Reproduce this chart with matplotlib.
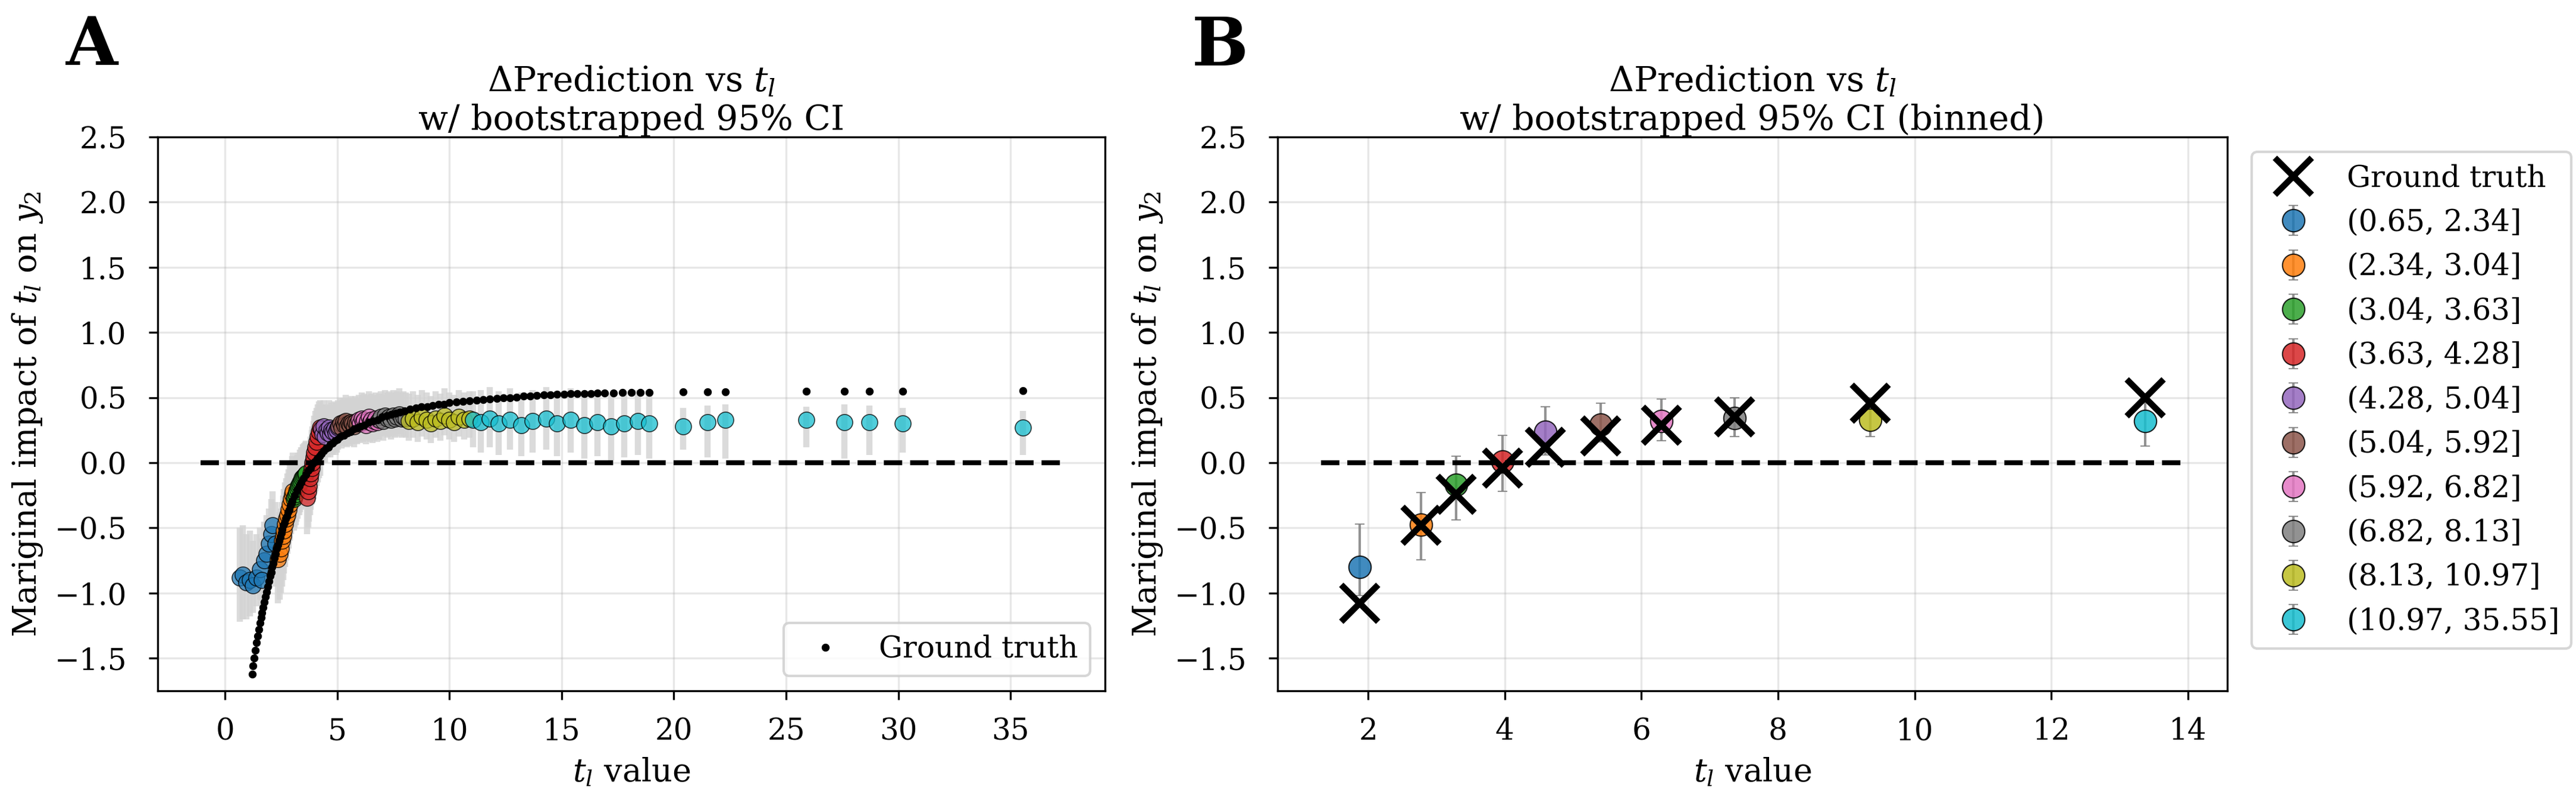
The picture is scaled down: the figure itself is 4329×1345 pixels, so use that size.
import matplotlib
matplotlib.use("Agg")
import matplotlib.pyplot as plt
import pandas as pd

plt.rcParams["font.family"] = "DejaVu Serif"
plt.rcParams["mathtext.fontset"] = "dejavuserif"

# bins used for colouring (decile edges from the legend)
bin_edges = [0.65, 2.34, 3.04, 3.63, 4.28, 5.04, 5.92, 6.82, 8.13, 10.97, 35.55]
bin_labels = ["(0.65, 2.34]", "(2.34, 3.04]", "(3.04, 3.63]", "(3.63, 4.28]",
              "(4.28, 5.04]", "(5.04, 5.92]", "(5.92, 6.82]", "(6.82, 8.13]",
              "(8.13, 10.97]", "(10.97, 35.55]"]

# panel A: per-sample prediction with bootstrapped CI
pt_x = [0.66, 0.80, 0.95, 1.10, 1.25, 1.40, 1.55, 1.65, 1.75, 1.85, 1.95, 2.05, 2.12, 2.25,
        2.36, 2.42, 2.48, 2.53, 2.58, 2.63, 2.68, 2.73, 2.78, 2.83, 2.88, 2.93, 2.98, 3.02,
        3.06, 3.10, 3.14, 3.18, 3.22, 3.26, 3.30, 3.34, 3.38, 3.42, 3.47, 3.52, 3.57, 3.61,
        3.65, 3.70, 3.74, 3.78, 3.82, 3.86, 3.90, 3.94, 3.98, 4.02, 4.07, 4.12, 4.18, 4.24,
        4.30, 4.35, 4.40, 4.46, 4.52, 4.58, 4.63, 4.68, 4.74, 4.80, 4.86, 4.92, 4.97, 5.02,
        5.07, 5.13, 5.20, 5.26, 5.32, 5.38, 5.44, 5.50, 5.56, 5.62, 5.68, 5.74, 5.81, 5.88,
        5.95, 6.01, 6.08, 6.14, 6.20, 6.27, 6.33, 6.40, 6.46, 6.52, 6.58, 6.64, 6.71, 6.78,
        6.86, 6.95, 7.04, 7.13, 7.22, 7.31, 7.40, 7.49, 7.58, 7.67, 7.76, 7.86, 7.96, 8.06,
        8.18, 8.38, 8.58, 8.78, 8.98, 9.18, 9.38, 9.58, 9.78, 9.98, 10.20, 10.42, 10.65, 10.88,
        11.05, 11.40, 11.80, 12.20, 12.70, 13.20, 13.70, 14.30, 14.80, 15.40, 16.00, 16.60,
        17.20, 17.80, 18.40, 18.90, 20.40, 21.50, 22.30, 25.90, 27.60, 28.70, 30.20, 35.55]
pt_y = [-0.88, -0.86, -0.92, -0.90, -0.94, -0.88, -0.82, -0.90, -0.75, -0.70, -0.62, -0.55, -0.48, -0.62,
        -0.74, -0.70, -0.66, -0.60, -0.56, -0.52, -0.47, -0.43, -0.40, -0.36, -0.32, -0.28, -0.24, -0.22,
        -0.28, -0.26, -0.24, -0.22, -0.20, -0.18, -0.17, -0.15, -0.14, -0.12, -0.11, -0.10, -0.09, -0.08,
        -0.27, -0.22, -0.18, -0.12, -0.08, -0.04, 0.00, 0.04, 0.08, 0.12, 0.16, 0.20, 0.24, 0.27,
        0.26, 0.22, 0.28, 0.20, 0.25, 0.23, 0.27, 0.22, 0.25, 0.24, 0.26, 0.23, 0.25, 0.27,
        0.28, 0.30, 0.27, 0.31, 0.29, 0.32, 0.28, 0.30, 0.29, 0.31, 0.30, 0.28, 0.31, 0.30,
        0.33, 0.30, 0.34, 0.31, 0.33, 0.29, 0.32, 0.35, 0.31, 0.33, 0.30, 0.32, 0.34, 0.31,
        0.33, 0.35, 0.32, 0.36, 0.34, 0.35, 0.33, 0.36, 0.34, 0.35, 0.37, 0.34, 0.35, 0.34,
        0.32, 0.34, 0.31, 0.35, 0.33, 0.30, 0.34, 0.32, 0.36, 0.33, 0.31, 0.35, 0.33, 0.34,
        0.33, 0.31, 0.34, 0.30, 0.33, 0.29, 0.32, 0.34, 0.30, 0.33, 0.29, 0.31,
        0.28, 0.30, 0.32, 0.30, 0.28, 0.31, 0.33, 0.33, 0.31, 0.31, 0.30, 0.27]
pt_lo = [-1.22, -1.20, -1.20, -1.18, -1.15, -1.10, -1.05, -1.10, -1.00, -0.98, -0.95, -0.90, -0.85, -0.95,
         -1.08, -1.05, -1.00, -0.95, -0.90, -0.85, -0.80, -0.75, -0.70, -0.66, -0.60, -0.55, -0.50, -0.48,
         -0.52, -0.50, -0.48, -0.45, -0.43, -0.40, -0.40, -0.38, -0.36, -0.35, -0.34, -0.33, -0.32, -0.30,
         -0.55, -0.50, -0.45, -0.40, -0.36, -0.32, -0.30, -0.28, -0.25, -0.22, -0.18, -0.15, -0.12, -0.10,
         0.05, 0.02, 0.08, 0.00, 0.06, 0.04, 0.08, 0.04, 0.07, 0.06, 0.08, 0.06, 0.08, 0.10,
         0.12, 0.14, 0.11, 0.15, 0.13, 0.16, 0.12, 0.14, 0.13, 0.15, 0.14, 0.12, 0.15, 0.14,
         0.17, 0.15, 0.18, 0.16, 0.17, 0.14, 0.17, 0.19, 0.16, 0.18, 0.15, 0.17, 0.18, 0.16,
         0.18, 0.20, 0.17, 0.21, 0.19, 0.20, 0.18, 0.21, 0.19, 0.20, 0.22, 0.19, 0.20, 0.19,
         0.17, 0.19, 0.16, 0.20, 0.18, 0.15, 0.19, 0.17, 0.21, 0.18, 0.16, 0.20, 0.18, 0.19,
         0.12, 0.08, 0.12, 0.06, 0.10, 0.05, 0.08, 0.10, 0.05, 0.08, 0.03, 0.05,
         0.02, 0.04, 0.06, 0.03, 0.10, 0.04, 0.03, 0.12, 0.03, 0.06, 0.08, 0.06]
pt_hi = [-0.50, -0.48, -0.55, -0.52, -0.60, -0.55, -0.50, -0.58, -0.45, -0.40, -0.35, -0.28, -0.22, -0.30,
         -0.42, -0.38, -0.35, -0.30, -0.25, -0.20, -0.15, -0.12, -0.08, -0.05, -0.02, 0.02, 0.05, 0.08,
         -0.02, 0.00, 0.02, 0.05, 0.06, 0.08, 0.08, 0.10, 0.12, 0.12, 0.14, 0.15, 0.16, 0.17,
         0.02, 0.08, 0.10, 0.15, 0.20, 0.25, 0.28, 0.32, 0.36, 0.40, 0.42, 0.45, 0.47, 0.48,
         0.45, 0.42, 0.48, 0.40, 0.45, 0.44, 0.48, 0.43, 0.46, 0.45, 0.47, 0.44, 0.46, 0.48,
         0.47, 0.50, 0.46, 0.50, 0.48, 0.52, 0.47, 0.50, 0.49, 0.51, 0.50, 0.48, 0.51, 0.50,
         0.52, 0.50, 0.54, 0.51, 0.53, 0.49, 0.52, 0.55, 0.51, 0.53, 0.50, 0.52, 0.54, 0.51,
         0.53, 0.55, 0.52, 0.56, 0.54, 0.55, 0.53, 0.56, 0.54, 0.55, 0.57, 0.54, 0.55, 0.54,
         0.53, 0.55, 0.52, 0.56, 0.54, 0.51, 0.55, 0.53, 0.57, 0.54, 0.52, 0.56, 0.54, 0.55,
         0.55, 0.56, 0.58, 0.55, 0.57, 0.54, 0.56, 0.58, 0.55, 0.57, 0.54, 0.56,
         0.53, 0.55, 0.56, 0.55, 0.42, 0.44, 0.45, 0.43, 0.45, 0.44, 0.42, 0.40]

# panel A: ground truth marginal impact
gt_x = [1.20, 1.25, 1.30, 1.35, 1.40, 1.45, 1.50, 1.55, 1.60, 1.65, 1.70, 1.75, 1.80, 1.85,
        1.90, 1.95, 2.00, 2.05, 2.10, 2.15, 2.20, 2.25, 2.30, 2.35, 2.40, 2.45, 2.50, 2.55,
        2.60, 2.65, 2.70, 2.75, 2.80, 2.85, 2.90, 2.95, 3.00, 3.10, 3.20, 3.30, 3.40, 3.50,
        3.60, 3.70, 3.80, 3.90, 4.00, 4.10, 4.20, 4.30, 4.40, 4.50, 4.60, 4.70, 4.80, 4.90,
        5.00, 5.15, 5.30, 5.45, 5.60, 5.75, 5.90, 6.05, 6.20, 6.40, 6.60, 6.80, 7.00, 7.20,
        7.40, 7.60, 7.80, 8.00, 8.25, 8.50, 8.75, 9.00, 9.25, 9.50, 9.75, 10.00, 10.30, 10.60,
        10.90, 11.20, 11.50, 11.80, 12.10, 12.40, 12.70, 13.00, 13.30, 13.60, 13.90, 14.20,
        14.50, 14.80, 15.10, 15.40, 15.70, 16.00, 16.30, 16.60, 16.90, 17.30, 17.70, 18.10,
        18.50, 18.90, 20.40, 21.50, 22.30, 25.90, 27.60, 28.70, 30.20, 35.55]
gt_y = [-1.62, -1.56, -1.50, -1.44, -1.38, -1.33, -1.28, -1.23, -1.19, -1.15, -1.11, -1.07, -1.03, -0.99,
        -0.95, -0.91, -0.87, -0.84, -0.80, -0.77, -0.73, -0.70, -0.66, -0.63, -0.60, -0.57, -0.54, -0.51,
        -0.48, -0.46, -0.43, -0.41, -0.38, -0.36, -0.33, -0.31, -0.29, -0.25, -0.21, -0.18, -0.15, -0.12,
        -0.09, -0.06, -0.04, -0.01, 0.01, 0.03, 0.05, 0.07, 0.09, 0.11, 0.12, 0.14, 0.15, 0.17,
        0.18, 0.20, 0.21, 0.23, 0.24, 0.26, 0.27, 0.28, 0.29, 0.31, 0.32, 0.33, 0.35, 0.36,
        0.37, 0.38, 0.39, 0.40, 0.41, 0.42, 0.43, 0.43, 0.44, 0.45, 0.45, 0.46, 0.465, 0.47,
        0.475, 0.48, 0.485, 0.49, 0.495, 0.50, 0.50, 0.505, 0.51, 0.51, 0.515, 0.52,
        0.52, 0.525, 0.525, 0.53, 0.53, 0.53, 0.53, 0.535, 0.535, 0.535, 0.54, 0.54,
        0.54, 0.54, 0.545, 0.545, 0.545, 0.55, 0.55, 0.55, 0.55, 0.555]

# panel B: binned means
binned_x = [1.88, 2.77, 3.29, 3.97, 4.59, 5.40, 6.29, 7.36, 9.35, 13.37]
binned_pred = [-0.80, -0.475, -0.17, 0.01, 0.24, 0.295, 0.32, 0.345, 0.33, 0.32]
binned_lo = [-1.02, -0.745, -0.44, -0.22, 0.06, 0.16, 0.17, 0.20, 0.20, 0.13]
binned_hi = [-0.47, -0.23, 0.05, 0.21, 0.43, 0.455, 0.49, 0.50, 0.50, 0.47]
binned_gt = [-1.08, -0.48, -0.24, -0.04, 0.12, 0.205, 0.29, 0.35, 0.455, 0.50]

W, H, DPI = 4329, 1345, 300


def style_axes(ax, title):
    ax.set_title(title, fontsize=14, pad=2)
    ax.set_xlabel("$t_l$ value", fontsize=13, labelpad=4)
    ax.set_ylabel("Mariginal impact of $t_l$ on $y_2$", fontsize=13)
    ax.tick_params(axis="x", labelsize=12, pad=7)
    ax.tick_params(axis="y", labelsize=12, pad=9)
    ax.grid(True, alpha=0.3)
    ax.set_axisbelow(True)


def zero_line(ax):
    x0, x1 = ax.get_xlim()
    ax.plot([x0, x1], [0, 0], "k--", lw=2, zorder=4)
    ax.set_ylim(-1.75, 2.5)


def panel_a(ax):
    df = pd.DataFrame({"x": pt_x, "y": pt_y, "lo": pt_lo, "hi": pt_hi})
    df["bin"] = pd.cut(df["x"], bin_edges, labels=False, include_lowest=True)
    for i, grp in df.groupby("bin"):
        err = [grp["y"] - grp["lo"], grp["hi"] - grp["y"]]
        ax.errorbar(grp["x"], grp["y"], yerr=err, fmt="none", ecolor="lightgray",
                    elinewidth=2.5, alpha=0.8, zorder=1)
        ax.plot(grp["x"], grp["y"], "o", color=f"C{int(i)}", mec="k", mew=0.4,
                ms=6.5, alpha=0.75, zorder=2)
    ax.plot(gt_x, gt_y, "o", color="k", ms=2.2, ls="none", zorder=3, label="Ground truth")
    zero_line(ax)
    style_axes(ax, "$\\Delta$Prediction vs $t_l$\nw/ bootstrapped 95% CI")
    ax.legend(loc="lower right", fontsize=12)


def panel_b(ax):
    handles = []
    for i in range(len(binned_x)):
        err = [[binned_pred[i] - binned_lo[i]], [binned_hi[i] - binned_pred[i]]]
        h = ax.errorbar([binned_x[i]], [binned_pred[i]], yerr=err, fmt="o",
                        color=f"C{i}", ecolor="gray", elinewidth=1, capsize=2,
                        ms=9, mec="k", mew=0.5, alpha=0.85, zorder=3,
                        label=bin_labels[i])
        handles.append(h)
    gt = ax.plot(binned_x, binned_gt, "x", color="k", ms=15, mew=2.5, ls="none",
                 zorder=5, label="Ground truth")[0]
    zero_line(ax)
    style_axes(ax, "$\\Delta$Prediction vs $t_l$\nw/ bootstrapped 95% CI (binned)")
    ax.legend(handles=[gt] + handles, loc="upper left", bbox_to_anchor=(1.01, 1.0),
              fontsize=12)


def main():
    fig = plt.figure(figsize=(W / DPI, H / DPI), dpi=DPI)
    ax_a = fig.add_axes([265 / W, 185 / H, 1592 / W, 930 / H])
    ax_b = fig.add_axes([2147 / W, 185 / H, 1596 / W, 930 / H])
    panel_a(ax_a)
    panel_b(ax_b)
    fig.text(111 / W, 1 - 109 / H, "A", fontsize=27, fontweight="bold", va="baseline")
    fig.text(2003 / W, 1 - 110 / H, "B", fontsize=27, fontweight="bold", va="baseline")
    fig.savefig("out.png", dpi=DPI)


if __name__ == "__main__":
    main()
